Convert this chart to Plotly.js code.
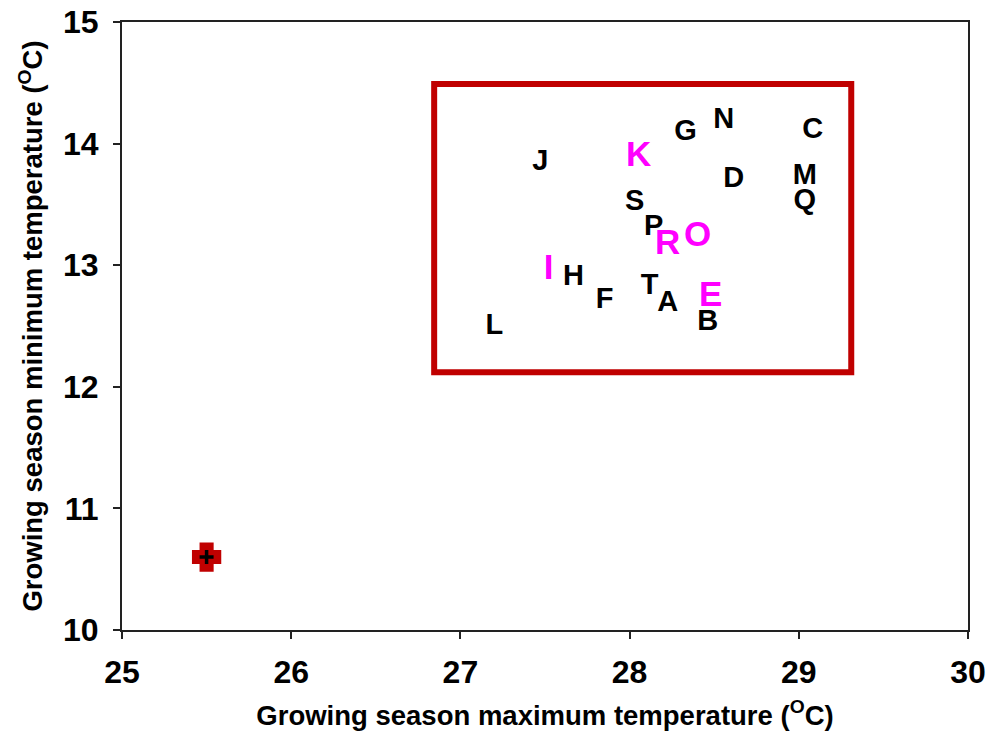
<!DOCTYPE html>
<html>
<head>
<meta charset="utf-8">
<script src="https://cdn.plot.ly/plotly-3.0.1.min.js"></script>
<style>html,body{margin:0;padding:0;background:#fff;}#chart{width:987px;height:733px;}</style>
</head>
<body>
<div id="chart"></div>
<script>
// Black-labelled sites
const blackLabels = ['A','B','C','D','F','G','H','J','L','M','N','P','Q','S','T'];
const blackX = [28.225, 28.462, 29.083, 28.615, 27.852, 28.331, 27.669, 27.473, 27.201, 29.036, 28.556, 28.142, 29.036, 28.030, 28.118];
const blackY = [12.68, 12.525, 14.104, 13.70, 12.706, 14.087, 12.895, 13.840, 12.492, 13.725, 14.186, 13.306, 13.520, 13.512, 12.821];
// Magenta-labelled sites
const pinkLabels = ['E','I','K','O','R'];
const pinkX = [28.479, 27.521, 28.053, 28.402, 28.225];
const pinkY = [12.739, 12.961, 13.890, 13.232, 13.166];
// Reference point (cross)
const refX = [25.5];
const refY = [10.6];

const font = 'Arial, "Liberation Sans", sans-serif';

const traces = [
  {x: blackX, y: blackY, text: blackLabels, mode: 'text', type: 'scatter',
   textposition: 'middle center', textfont: {family: font, size: 29, color: '#000', weight: 'bold'},
   hoverinfo: 'skip', cliponaxis: false},
  {x: pinkX, y: pinkY, text: pinkLabels, mode: 'text', type: 'scatter',
   textposition: 'middle center', textfont: {family: font, size: 35, color: '#ff00ff', weight: 'bold'},
   hoverinfo: 'skip', cliponaxis: false},
  {x: refX, y: refY, mode: 'markers', type: 'scatter',
   marker: {symbol: 'cross', size: 19, color: '#c00000', line: {width: 6.5, color: '#c00000'}}, hoverinfo: 'skip'},
  {x: refX, y: refY, mode: 'markers', type: 'scatter',
   marker: {symbol: 'cross-thin', size: 10, color: '#000', line: {width: 3.5, color: '#000'}}, hoverinfo: 'skip'}
];

const layout = {
  width: 987, height: 733,
  margin: {l: 122, r: 19, t: 22, b: 103},
  paper_bgcolor: '#fff', plot_bgcolor: '#fff',
  showlegend: false,
  font: {family: font, color: '#000'},
  xaxis: {
    range: [25, 30], tickvals: [25, 26, 27, 28, 29, 30], ticktext: ['25','26','27','28','29','30'],
    showgrid: false, zeroline: false, showline: true, linecolor: '#222', linewidth: 2, mirror: true,
    ticks: 'outside', ticklen: 7, tickwidth: 2, tickcolor: '#222', ticklabelstandoff: 6,
    tickfont: {family: font, size: 32, weight: 'bold'},
    title: {text: 'Growing season maximum temperature (<sup>O</sup>C)', font: {family: font, size: 27.5, weight: 'bold'}, standoff: 16}
  },
  yaxis: {
    range: [10, 15], tickvals: [10, 11, 12, 13, 14, 15], ticktext: ['10','11','12','13','14','15'],
    showgrid: false, zeroline: false, showline: true, linecolor: '#222', linewidth: 2, mirror: true,
    ticks: 'outside', ticklen: 7, tickwidth: 2, tickcolor: '#222', ticklabelstandoff: 8,
    tickfont: {family: font, size: 32, weight: 'bold'},
    title: {text: 'Growing season minimum temperature (<sup>O</sup>C)', font: {family: font, size: 27.5, weight: 'bold'}, standoff: 12}
  },
  shapes: [
    {type: 'rect', xref: 'x', yref: 'y', x0: 26.845, x1: 29.31, y0: 12.12, y1: 14.49,
     line: {color: '#c00000', width: 6}, fillcolor: 'rgba(0,0,0,0)'}
  ]
};

Plotly.newPlot('chart', traces, layout, {staticPlot: true});
</script>
</body>
</html>
